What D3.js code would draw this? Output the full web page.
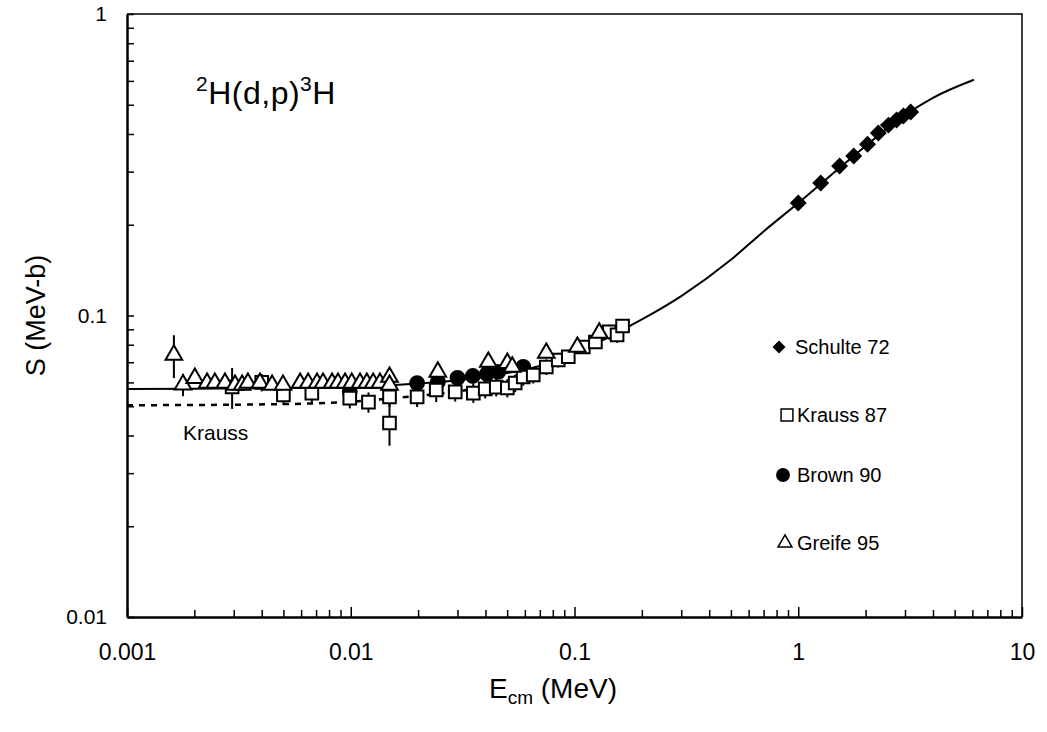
<!DOCTYPE html>
<html>
<head>
<meta charset="utf-8">
<script src="https://cdn.jsdelivr.net/npm/d3@7"></script>
<style>
  body { margin: 0; background: #fff; }
  text { font-family: "Liberation Sans", Arial, sans-serif; fill: #000; }
</style>
</head>
<body>
<svg id="chart" width="1047" height="732"></svg>
<script>
// ---- data ----
const xTickLabels = ["0.001", "0.01", "0.1", "1", "10"];
const yTickLabels = ["0.01", "0.1", "1"];

// theory curve (solid) and Krauss fit (dashed)
const curveE = [0.001, 0.002, 0.005, 0.01, 0.02, 0.03, 0.05, 0.07, 0.1, 0.15, 0.2, 0.3, 0.5, 0.7, 1, 1.5, 2, 3, 4, 6.1];
const curveS = [0.057, 0.0572, 0.0575, 0.058, 0.0595, 0.061, 0.0645, 0.068, 0.075, 0.0865, 0.097, 0.116, 0.153, 0.19, 0.236, 0.305, 0.365, 0.462, 0.527, 0.605];
const dashE = [0.001, 0.003, 0.008, 0.017, 0.03, 0.05];
const dashS = [0.0504, 0.0506, 0.0513, 0.0535, 0.056, 0.060];

const schulteE = [1.0, 1.26, 1.53, 1.77, 2.04, 2.28, 2.53, 2.75, 2.95, 3.18];
const schulteS = [0.236, 0.275, 0.313, 0.338, 0.370, 0.403, 0.428, 0.445, 0.459, 0.473];

const kraussE = [0.00295, 0.0040, 0.0050, 0.0067, 0.0099, 0.0120, 0.0149, 0.0149, 0.0198, 0.0241, 0.0293, 0.0353, 0.0399, 0.0447, 0.0501, 0.0543, 0.0590, 0.0654, 0.0748, 0.0846, 0.0938, 0.1095, 0.124, 0.143, 0.155, 0.164];
const kraussS = [0.058, 0.060, 0.0545, 0.0553, 0.0532, 0.0516, 0.0537, 0.0440, 0.0537, 0.0566, 0.0558, 0.0553, 0.0571, 0.0579, 0.0575, 0.0597, 0.0625, 0.0635, 0.0675, 0.0712, 0.0730, 0.0786, 0.0817, 0.0882, 0.0862, 0.0923];
const kraussErr = [0.009, 0.004, 0.004, 0.004, 0.004, 0.004, 0.004, 0.007, 0.004, 0.005, 0.004, 0.004, 0.004, 0.004, 0.004, 0.004, 0.004, 0.004, 0.004, 0.004, 0.004, 0.004, 0.004, 0.005, 0.005, 0.005];

const brownE = [0.0099, 0.0198, 0.0245, 0.0300, 0.0351, 0.0406, 0.0456, 0.0590];
const brownS = [0.056, 0.0597, 0.0602, 0.0621, 0.0630, 0.0640, 0.0650, 0.0675];

const greifeE = [0.00162, 0.00178, 0.00201, 0.00228, 0.00247, 0.00274, 0.00304, 0.00327, 0.00347, 0.00393, 0.00445, 0.00498, 0.00594, 0.00645, 0.00707, 0.00752, 0.00825, 0.00877, 0.00943, 0.0101, 0.0110, 0.0118, 0.0126, 0.0135, 0.0149, 0.0149, 0.0245, 0.0412, 0.0501, 0.0527, 0.0748, 0.103, 0.129];
const greifeS = [0.074, 0.059, 0.062, 0.0597, 0.0597, 0.0597, 0.0588, 0.0588, 0.0597, 0.0597, 0.0588, 0.0588, 0.0597, 0.0597, 0.0597, 0.0597, 0.0597, 0.0597, 0.0597, 0.0597, 0.0597, 0.0597, 0.0597, 0.0597, 0.0625, 0.0588, 0.065, 0.0701, 0.0695, 0.0675, 0.0751, 0.0786, 0.0875];
const greifeErr = [0.012, 0.005, 0, 0, 0, 0, 0, 0, 0, 0, 0, 0, 0, 0, 0, 0, 0, 0, 0, 0, 0, 0, 0, 0, 0.004, 0, 0.003, 0.003, 0.003, 0, 0.003, 0.003, 0.004];

const legendLabels = ["Schulte 72", "Krauss 87", "Brown 90", "Greife 95"];

// ---- layout ----
const svg = d3.select("#chart");
const margin = {left: 127, top: 14, right: 25, bottom: 115};
const w = 1047 - margin.left - margin.right;
const h = 732 - margin.top - margin.bottom;

const x = d3.scaleLog().domain([0.001, 10]).range([0, w]);
const y = d3.scaleLog().domain([0.01, 1]).range([h, 0]);

const g = svg.append("g").attr("transform", `translate(${margin.left},${margin.top})`);

// tick values: every 1..9 in each decade
function logTicks(lo, hi) {
  let t = [];
  for (let d = lo; d < hi * 0.999; d *= 10)
    for (let k = 1; k <= 9; k++) t.push(+(d * k).toPrecision(3));
  t.push(hi);
  return t;
}
const isDecade = v => Math.abs(Math.log10(v) - Math.round(Math.log10(v))) < 1e-6;

const xAxis = d3.axisBottom(x)
  .tickValues(logTicks(0.001, 10))
  .tickSizeInner(-7).tickSizeOuter(0).tickPadding(27)
  .tickFormat(v => isDecade(v) ? xTickLabels[Math.round(Math.log10(v)) + 3] : "");
const yAxis = d3.axisLeft(y)
  .tickValues(logTicks(0.01, 1))
  .tickSizeInner(-7).tickSizeOuter(0).tickPadding(20)
  .tickFormat(v => isDecade(v) ? yTickLabels[Math.round(Math.log10(v)) + 2] : "");

// frame top/right
g.append("path")
  .attr("d", `M0,0H${w}V${h}`)
  .attr("fill", "none").attr("stroke", "#000").attr("stroke-width", 1.5);

const gx = g.append("g").attr("transform", `translate(0,${h})`).call(xAxis);
const gy = g.append("g").call(yAxis);
[gx, gy].forEach(a => {
  a.attr("font-family", '"Liberation Sans", Arial, sans-serif');
  a.select(".domain").attr("stroke-width", 2.5);
  a.selectAll(".tick line").attr("stroke-width", 1.5);
});
gx.selectAll(".tick text").attr("font-size", 23);
gy.selectAll(".tick text").attr("font-size", 21);
gx.selectAll(".tick line").filter(d => isDecade(d)).attr("y2", -10);

// axis titles
const xt = g.append("text")
  .attr("x", 426).attr("y", h + 81)
  .attr("text-anchor", "middle").attr("font-size", 28);
xt.append("tspan").text("E");
xt.append("tspan").attr("font-size", 19).attr("dy", 6).text("cm");
xt.append("tspan").attr("dy", -6).text(" (MeV)");

g.append("text")
  .attr("transform", `translate(-82,${h / 2}) rotate(-90)`)
  .attr("text-anchor", "middle").attr("font-size", 27)
  .text("S (MeV-b)");

// reaction label
const title = g.append("text").attr("x", 69).attr("y", 90).attr("font-size", 32)
  .attr("letter-spacing", 0.5);
title.append("tspan").attr("font-size", 21).attr("dy", -13).text("2");
title.append("tspan").attr("dy", 13).text("H(d,p)");
title.append("tspan").attr("font-size", 21).attr("dy", -13).text("3");
title.append("tspan").attr("dy", 13).text("H");

// lines
const line = d3.line().x(d => x(d[0])).y(d => y(d[1])).curve(d3.curveMonotoneX);
g.append("path")
  .datum(d3.zip(curveE, curveS))
  .attr("d", line)
  .attr("fill", "none").attr("stroke", "#000").attr("stroke-width", 2);
g.append("path")
  .datum(d3.zip(dashE, dashS))
  .attr("d", line)
  .attr("fill", "none").attr("stroke", "#000").attr("stroke-width", 2.5)
  .attr("stroke-dasharray", "6,6");

g.append("text").attr("x", 56).attr("y", 426).attr("font-size", 21).text("Krauss");

// error bars
function errBars(E, S, err) {
  g.append("g").selectAll("line")
    .data(d3.zip(E, S, err).filter(d => d[2] > 0))
    .join("line")
    .attr("x1", d => x(d[0])).attr("x2", d => x(d[0]))
    .attr("y1", d => y(d[1] + d[2])).attr("y2", d => y(d[1] - d[2]))
    .attr("stroke", "#000").attr("stroke-width", 2);
}
errBars(kraussE, kraussS, kraussErr);
errBars(greifeE, greifeS, greifeErr);

// markers
function markers(E, S, type, size, fill, rot) {
  g.append("g").selectAll("path")
    .data(d3.zip(E, S))
    .join("path")
    .attr("transform", d => `translate(${x(d[0])},${y(d[1])}) rotate(${rot || 0})`)
    .attr("d", d3.symbol().type(type).size(size))
    .attr("fill", fill).attr("stroke", "#000").attr("stroke-width", 2);
}
markers(brownE, brownS, d3.symbolCircle, 150, "#000");
markers(kraussE, kraussS, d3.symbolSquare, 160, "#fff");
markers(greifeE, greifeS, d3.symbolTriangle, 120, "#fff");
markers(schulteE, schulteS, d3.symbolSquare, 100, "#000", 45);

// legend
const legendSym = [
  {type: d3.symbolSquare, size: 60, fill: "#000", rot: 45, dx: 16, x: 779 - margin.left, y: 347 - margin.top},
  {type: d3.symbolSquare, size: 140, fill: "#fff", rot: 0, dx: 10, x: 787 - margin.left, y: 415 - margin.top},
  {type: d3.symbolCircle, size: 120, fill: "#000", rot: 0, dx: 14, x: 783 - margin.left, y: 475 - margin.top},
  {type: d3.symbolTriangle, size: 85, fill: "#fff", rot: 0, dx: 12, x: 785 - margin.left, y: 543 - margin.top}
];
const lg = g.append("g");
legendSym.forEach((s, i) => {
  lg.append("path")
    .attr("transform", `translate(${s.x},${s.y}) rotate(${s.rot})`)
    .attr("d", d3.symbol().type(s.type).size(s.size))
    .attr("fill", s.fill).attr("stroke", "#000").attr("stroke-width", 1.5);
  lg.append("text")
    .attr("x", s.x + s.dx).attr("y", s.y + 7)
    .attr("font-size", 20)
    .text(legendLabels[i]);
});
</script>
</body>
</html>
